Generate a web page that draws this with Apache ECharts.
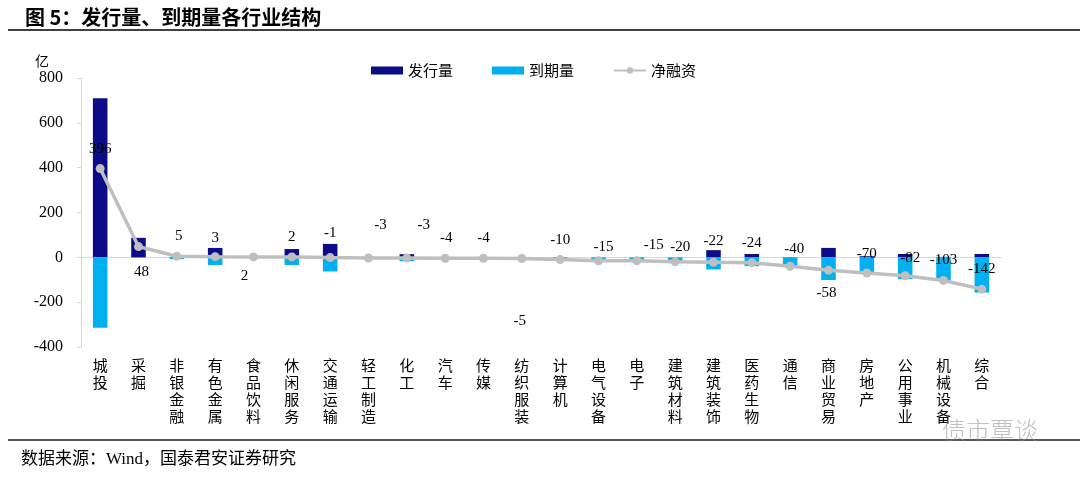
<!DOCTYPE html>
<html>
<head>
<meta charset="utf-8">
<script src="https://cdn.jsdelivr.net/npm/echarts@6/dist/echarts.min.js"></script>
<style>
html,body{margin:0;padding:0;background:#fff;}
#chart{width:1080px;height:479px;}
</style>
</head>
<body>
<div id="chart"></div>
<script>
// ---- data ----
const categories = ['城投','采掘','非银金融','有色金属','食品饮料','休闲服务','交通运输','轻工制造','化工','汽车','传媒','纺织服装','计算机','电气设备','电子','建筑材料','建筑装饰','医药生物','通信','商业贸易','房地产','公用事业','机械设备','综合'];
const issuance = [710, 87, 2, 42, 1, 37, 60, 0, 14, 1, 0, 0, 1, 0, 0, 0, 32, 15, 1, 42, 5, 15, 2, 15];
const maturity = [-314, -2, -8, -34, -1, -34, -63, -3, -17, -5, -4, -5, -11, -15, -15, -20, -54, -39, -41, -101, -75, -97, -105, -157];
const netFinancing = [396, 48, 5, 3, 2, 2, -1, -3, -3, -4, -4, -5, -10, -15, -15, -20, -22, -24, -40, -58, -70, -82, -103, -142];
const yMin = -400, yMax = 800, yStep = 200;

// label placement (styling only)
const labelNudge = [[0,-20],[3,25],[2,-20],[0,-19],[-9,19],[0,-20],[0,-24],[12,-33],[17,-33],[1,-20],[0,-20],[-2,63],[0,-20],[5,-14],[17,-16],[5,-15],[0,-21],[0,-20],[4,-17],[-2,23],[0,-19],[5,-18],[0,-20],[0,-20]];

const serif = "'Liberation Serif','Times New Roman','Noto Sans CJK SC',serif";
const cjk = "'Noto Sans CJK SC','Liberation Serif',sans-serif";

const chart = echarts.init(document.getElementById('chart'));
chart.setOption({
  animation: false,
  backgroundColor: '#fff',
  title: {
    text: '图 5：发行量、到期量各行业结构',
    left: 20, top: 2,
    textStyle: {fontFamily: cjk, fontWeight: 'bold', fontSize: 20, color: '#000'}
  },
  legend: {
    left: 366, top: 58,
    itemGap: 39, itemWidth: 32, itemHeight: 8,
    textStyle: {fontFamily: cjk, fontSize: 15, color: '#000'},
    data: [
      {name: '发行量', icon: 'rect'},
      {name: '到期量', icon: 'rect'},
      {name: '净融资'}
    ]
  },
  grid: {left: 81, right: 79, top: 78, bottom: 132, containLabel: false},
  xAxis: [
    {
      type: 'category', data: categories, position: 'bottom',
      axisLine: {show: false, onZero: false}, axisTick: {show: false},
      axisLabel: {
        interval: 0, margin: 10, color: '#000',
        fontFamily: cjk, fontSize: 15, lineHeight: 17,
        formatter: v => v.split('').join('\n')
      }
    },
    {
      type: 'category', data: categories, position: 'bottom',
      axisLine: {show: true, onZero: true, lineStyle: {color: '#D9D9D9', width: 1}},
      axisTick: {show: false}, axisLabel: {show: false}
    }
  ],
  yAxis: {
    type: 'value', min: yMin, max: yMax, interval: yStep,
    axisLine: {show: true, lineStyle: {color: '#D9D9D9'}},
    axisTick: {show: true, inside: false, length: 4, lineStyle: {color: '#D9D9D9'}},
    splitLine: {show: false},
    axisLabel: {margin: 18, color: '#000', fontFamily: serif, fontSize: 16}
  },
  graphic: [
    {type: 'line', shape: {x1: 8, y1: 30, x2: 1080, y2: 30}, style: {stroke: '#000', lineWidth: 1.5}},
    {type: 'line', shape: {x1: 8, y1: 440, x2: 1080, y2: 440}, style: {stroke: '#222', lineWidth: 1.5}},
    {type: 'text', left: 35, top: 54, style: {text: '亿', font: "14px 'Noto Sans CJK SC'", fill: '#000'}},
    {type: 'text', left: 21, top: 451, style: {text: '数据来源：Wind，国泰君安证券研究', font: "17px 'Liberation Serif','Noto Sans CJK SC'", fill: '#000'}},
    {type: 'text', left: 942, top: 418, z: 100, style: {text: '债市覃谈', font: "300 24px 'Noto Sans CJK SC'", fill: 'rgba(140,140,140,0.55)'}}
  ],
  series: [
    {
      name: '发行量', type: 'bar', stack: 'total', barWidth: '38%',
      itemStyle: {color: '#0C0C88'},
      data: issuance
    },
    {
      name: '到期量', type: 'bar', stack: 'total', barWidth: '38%',
      itemStyle: {color: '#00B0F0'},
      data: maturity
    },
    {
      name: '净融资', type: 'line', z: 5,
      symbol: 'circle', symbolSize: 9,
      lineStyle: {color: '#BFBFBF', width: 3.5},
      itemStyle: {color: '#BFBFBF'},
      label: {show: true, position: 'inside', color: '#000', fontFamily: serif, fontSize: 15},
      data: netFinancing.map((v, i) => ({value: v, label: {offset: labelNudge[i]}}))
    }
  ]
});
</script>
</body>
</html>
